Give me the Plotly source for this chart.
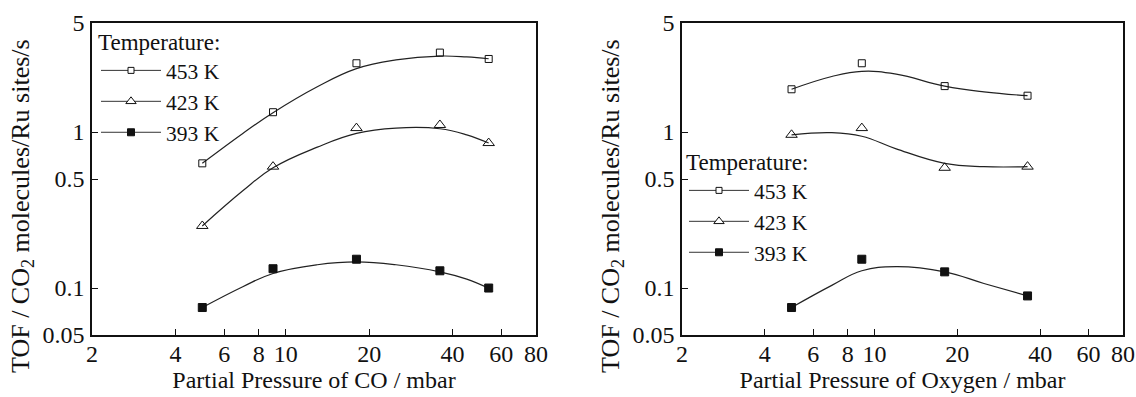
import plotly.graph_objects as go
import math

# ---- measured points ----
CO_P = [5, 9, 18, 36, 54]
co_453 = [0.63, 1.34, 2.76, 3.23, 2.94]
co_423 = [0.25, 0.60, 1.06, 1.11, 0.85]
co_393 = [0.075, 0.133, 0.153, 0.129, 0.100]

O2_P = [5, 9, 18, 36]
o2_453 = [1.88, 2.76, 1.97, 1.71]
o2_423 = [0.96, 1.06, 0.59, 0.60]
o2_393 = [0.075, 0.153, 0.127, 0.089]

# ---- fitted curves ----
CO_FIT_P = [5, 7, 9, 13, 18, 25, 36, 45, 54]
co_453_fit = [0.63, 0.98, 1.33, 1.95, 2.55, 2.90, 3.07, 3.03, 2.95]
co_423_fit = [0.25, 0.42, 0.59, 0.80, 0.98, 1.06, 1.05, 0.96, 0.85]
co_393_fit = [0.075, 0.102, 0.124, 0.141, 0.147, 0.141, 0.127, 0.114, 0.0996]

O2_FIT_P = [5, 7, 9, 12, 18, 25, 36]
o2_453_fit = [1.88, 2.27, 2.45, 2.35, 1.97, 1.81, 1.71]
o2_423_fit = [0.96, 0.99, 0.94, 0.78, 0.63, 0.60, 0.60]
o2_393_fit = [0.075, 0.104, 0.129, 0.137, 0.127, 0.107, 0.089]

TEMPS = ["453 K", "423 K", "393 K"]
SYMBOLS = ["square-open", "triangle-up-open", "square"]
SIZES = [7, 10, 8]

X_TICKS = [2, 4, 6, 8, 10, 20, 40, 60, 80]
Y_TICKS = [0.05, 0.1, 0.5, 1, 5]
Y_TICKTEXT = ["0.05", "0.1", "0.5", "1", "5"]

X_TITLES = ["Partial Pressure of CO / mbar", "Partial Pressure of Oxygen / mbar"]
Y_TITLE = "TOF / CO<sub>2</sub> molecules/Ru sites/s"

FONT = "Liberation Serif"
W, H = 1136, 397
INK = "#111"

fig = go.Figure()

panels = [
    ("x", "y", "legend", CO_P, [co_453, co_423, co_393], CO_FIT_P, [co_453_fit, co_423_fit, co_393_fit]),
    ("x2", "y2", "legend2", O2_P, [o2_453, o2_423, o2_393], O2_FIT_P, [o2_453_fit, o2_423_fit, o2_393_fit]),
]

for xa, ya, lg, px, series, fx, fits in panels:
    for i in range(3):
        fig.add_trace(go.Scatter(x=fx, y=fits[i], mode="lines",
                                 line=dict(color="#222", width=1.2, shape="spline", smoothing=1.2),
                                 xaxis=xa, yaxis=ya, showlegend=False, hoverinfo="skip"))
    for i in range(3):
        fig.add_trace(go.Scatter(x=px, y=series[i], mode="markers",
                                 marker=dict(symbol=SYMBOLS[i], size=SIZES[i], color=INK,
                                             line=dict(color=INK, width=1)),
                                 xaxis=xa, yaxis=ya, showlegend=False))
    # legend entries
    for i in range(3):
        fig.add_trace(go.Scatter(x=[None], y=[None], mode="lines+markers", name=TEMPS[i],
                                 line=dict(color="#333", width=1),
                                 marker=dict(symbol=SYMBOLS[i].replace("-open", ""),
                                             size=SIZES[i] - 1,
                                             color="white" if i < 2 else INK,
                                             line=dict(color=INK, width=1)),
                                 xaxis=xa, yaxis=ya, legend=lg, showlegend=True))

xr = [math.log10(2), math.log10(80)]
yr = [math.log10(0.05), math.log10(5)]
ydom = [(H - 335) / H, (H - 23) / H]
xdoms = [[92 / W, 536 / W], [682 / W, 1123 / W]]

def xaxis(dom, title, anchor):
    return dict(type="log", range=xr, domain=dom, anchor=anchor,
                tickvals=X_TICKS, ticktext=[str(v) for v in X_TICKS],
                ticks="inside", ticklen=6, tickwidth=1.3, tickcolor=INK,
                showline=True, linecolor=INK, linewidth=1.5, mirror=True,
                showgrid=False, zeroline=False, ticklabelstandoff=-4,
                tickfont=dict(family=FONT, size=24, color=INK),
                title=dict(text=title, font=dict(family=FONT, size=24, color=INK), standoff=6))

def yaxis(anchor):
    return dict(type="log", range=yr, domain=ydom, anchor=anchor,
                tickvals=Y_TICKS, ticktext=Y_TICKTEXT,
                ticks="inside", ticklen=6, tickwidth=1.3, tickcolor=INK,
                showline=True, linecolor=INK, linewidth=1.5, mirror=True,
                showgrid=False, zeroline=False, ticklabelstandoff=1,
                tickfont=dict(family=FONT, size=24, color=INK))

leg_common = dict(bgcolor="rgba(0,0,0,0)", borderwidth=0, itemwidth=60,
                  font=dict(family=FONT, size=21.5, color=INK),
                  title=dict(text="Temperature:", font=dict(family=FONT, size=23, color=INK)),
                  xanchor="left", yanchor="top", tracegroupgap=0, itemclick=False)

annotations = []
for dom in xdoms:
    annotations.append(dict(text=Y_TITLE, xref="paper", yref="paper",
                            x=(dom[0] * W - 70) / W, y=(H - 206) / H,
                            xanchor="center", yanchor="middle", textangle=-90, showarrow=False,
                            font=dict(family=FONT, size=26, color=INK)))

fig.update_layout(
    width=W, height=H,
    margin=dict(l=0, r=0, t=0, b=0, autoexpand=False),
    paper_bgcolor="white", plot_bgcolor="white",
    xaxis=xaxis(xdoms[0], X_TITLES[0], "y"),
    yaxis=yaxis("x"),
    xaxis2=xaxis(xdoms[1], X_TITLES[1], "y2"),
    yaxis2=yaxis("x2"),
    legend=dict(x=96 / W, y=(H - 20) / H, **leg_common),
    legend2=dict(x=684 / W, y=(H - 140) / H, **leg_common),
    annotations=annotations,
)

fig.write_html("out.html")
